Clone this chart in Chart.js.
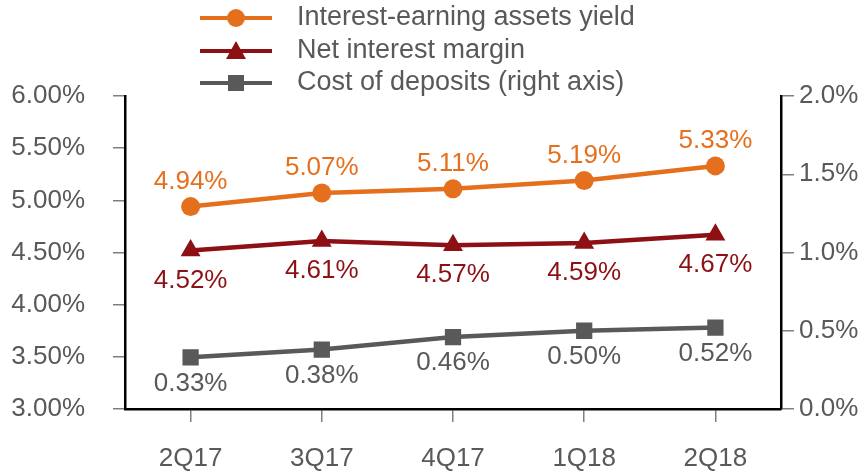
<!DOCTYPE html>
<html>
<head>
<meta charset="utf-8">
<script src="https://cdn.jsdelivr.net/npm/chart.js@4/dist/chart.umd.min.js"></script>
<style>
  html, body { margin: 0; padding: 0; background: #fff; }
  #wrap { width: 864px; height: 473px; }
</style>
</head>
<body>
<div id="wrap"><canvas id="chart"></canvas></div>
<script>
const quarters = ["2Q17", "3Q17", "4Q17", "1Q18", "2Q18"];
const assetsYield = [4.94, 5.07, 5.11, 5.19, 5.33];
const netMargin = [4.52, 4.61, 4.57, 4.59, 4.67];
const depositCost = [0.33, 0.38, 0.46, 0.50, 0.52];
const seriesNames = ["Interest-earning assets yield", "Net interest margin", "Cost of deposits (right axis)"];

const ORANGE = "#e4701e";
const RED = "#8c1014";
const GREY = "#595959";
const FONT = "'Liberation Sans', Arial, sans-serif";
const FSIZE = 26;

// value labels above / below each point
const pointLabels = {
  id: "pointLabels",
  afterDatasetsDraw(chart) {
    const ctx = chart.ctx;
    ctx.save();
    ctx.font = FSIZE + "px " + FONT;
    ctx.textAlign = "center";
    ctx.textBaseline = "middle";
    chart.data.datasets.forEach((ds, i) => {
      const meta = chart.getDatasetMeta(i);
      meta.data.forEach((pt, j) => {
        ctx.fillStyle = ds.labelColor;
        ctx.fillText(ds.data[j].toFixed(2) + "%", pt.x, pt.y + ds.labelOffset);
      });
    });
    ctx.restore();
  }
};

// legend stacked in one left-aligned column
const stackedLegend = {
  id: "stackedLegend",
  afterDraw(chart) {
    const ctx = chart.ctx;
    const rows = [18, 51, 83];
    ctx.save();
    chart.data.datasets.forEach((ds, i) => {
      const y = rows[i];
      ctx.strokeStyle = ds.borderColor;
      ctx.lineWidth = 4;
      ctx.beginPath();
      ctx.moveTo(200, y);
      ctx.lineTo(272, y);
      ctx.stroke();
      ctx.fillStyle = ds.borderColor;
      ctx.beginPath();
      if (ds.pointStyle === "circle") {
        ctx.arc(236, y, 9, 0, Math.PI * 2);
      } else if (ds.pointStyle === "triangle") {
        ctx.moveTo(236, y - 10);
        ctx.lineTo(246, y + 8);
        ctx.lineTo(226, y + 8);
        ctx.closePath();
      } else {
        ctx.rect(228, y - 8, 16, 16);
      }
      ctx.fill();
      ctx.fillStyle = GREY;
      ctx.font = "27px " + FONT;
      ctx.textAlign = "left";
      ctx.textBaseline = "middle";
      ctx.fillText(ds.label, 297, y);
    });
    ctx.restore();
  }
};

new Chart(document.getElementById("chart"), {
  type: "line",
  data: {
    labels: quarters,
    datasets: [
      {
        label: seriesNames[0],
        data: assetsYield,
        yAxisID: "y",
        borderColor: ORANGE,
        backgroundColor: ORANGE,
        pointStyle: "circle",
        pointRadius: 9.5,
        labelColor: ORANGE,
        labelOffset: -25,
      },
      {
        label: seriesNames[1],
        data: netMargin,
        yAxisID: "y",
        borderColor: RED,
        backgroundColor: RED,
        pointStyle: "triangle",
        pointRadius: 11.5,
        labelColor: RED,
        labelOffset: 30,
      },
      {
        label: seriesNames[2],
        data: depositCost,
        yAxisID: "y1",
        borderColor: GREY,
        backgroundColor: GREY,
        pointStyle: "rect",
        pointRadius: 11.5,
        labelColor: GREY,
        labelOffset: 26,
      },
    ],
  },
  options: {
    responsive: true,
    maintainAspectRatio: false,
    animation: false,
    layout: { padding: { top: 96, left: 0, right: 0, bottom: 0 } },
    elements: {
      line: { borderWidth: 4.5, tension: 0 },
      point: { borderWidth: 0, hoverRadius: 8 },
    },
    plugins: {
      legend: { display: false },
      tooltip: { enabled: false },
    },
    scales: {
      x: {
        offset: true,
        border: { display: true, color: "#000", width: 2.5 },
        grid: { drawOnChartArea: false, drawTicks: true, tickLength: 13, color: "#7f7f7f", lineWidth: 1.5, offset: false },
        ticks: { color: GREY, font: { family: FONT, size: FSIZE }, padding: 21 },
        afterFit(scale) { scale.height = 64; },
      },
      y: {
        position: "left",
        min: 3,
        max: 6,
        border: { display: true, color: "#000", width: 2.5 },
        grid: { drawOnChartArea: false, drawTicks: true, tickLength: 12, color: "#7f7f7f", lineWidth: 1.5 },
        ticks: {
          stepSize: 0.5,
          color: GREY,
          font: { family: FONT, size: FSIZE },
          padding: 28,
          callback: (v) => v.toFixed(2) + "%",
        },
        afterFit(scale) { scale.width = 125; },
      },
      y1: {
        position: "right",
        min: 0,
        max: 2,
        border: { display: true, color: "#000", width: 2.5 },
        grid: { drawOnChartArea: false, drawTicks: true, tickLength: 13, color: "#7f7f7f", lineWidth: 1.5 },
        ticks: {
          stepSize: 0.5,
          color: GREY,
          font: { family: FONT, size: FSIZE },
          padding: 5,
          callback: (v) => v.toFixed(1) + "%",
        },
        afterFit(scale) { scale.width = 83; },
      },
    },
  },
  plugins: [pointLabels, stackedLegend],
});
</script>
</body>
</html>
